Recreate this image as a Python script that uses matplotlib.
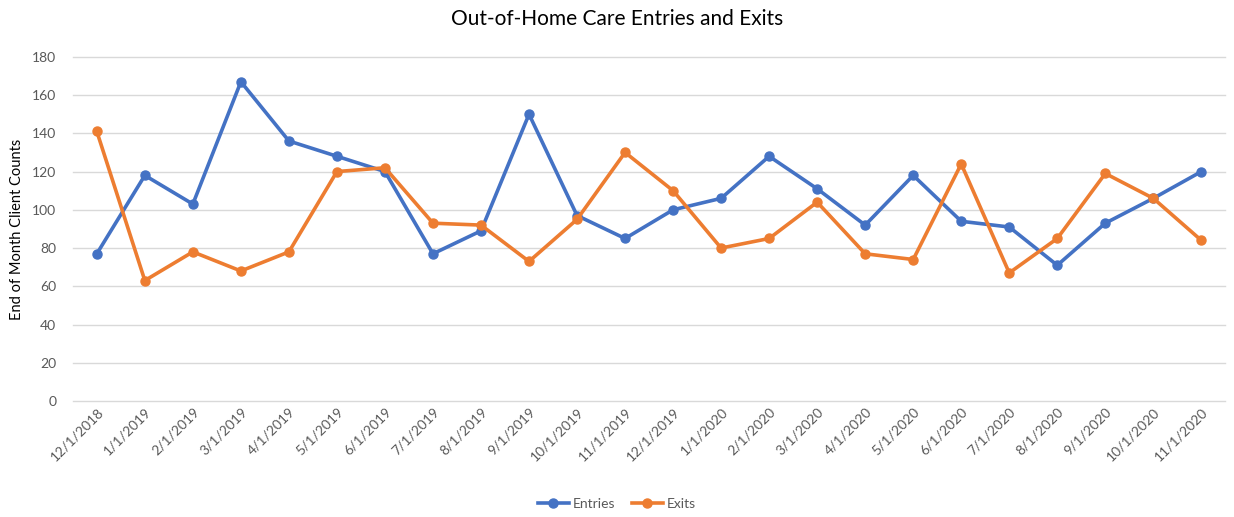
import matplotlib.pyplot as plt

months = ['12/1/2018', '1/1/2019', '2/1/2019', '3/1/2019', '4/1/2019', '5/1/2019',
          '6/1/2019', '7/1/2019', '8/1/2019', '9/1/2019', '10/1/2019', '11/1/2019',
          '12/1/2019', '1/1/2020', '2/1/2020', '3/1/2020', '4/1/2020', '5/1/2020',
          '6/1/2020', '7/1/2020', '8/1/2020', '9/1/2020', '10/1/2020', '11/1/2020']
entries = [77, 118, 103, 167, 136, 128, 120, 77, 89, 150, 97, 85,
           100, 106, 128, 111, 92, 118, 94, 91, 71, 93, 106, 120]
exits = [141, 63, 78, 68, 78, 120, 122, 93, 92, 73, 95, 130,
         110, 80, 85, 104, 77, 74, 124, 67, 85, 119, 106, 84]

plt.rcParams['font.family'] = ['Lato', 'DejaVu Sans']


def do_plot():
    fig = plt.figure(figsize=(12.34, 5.17), dpi=100)
    ax = fig.add_axes([0.059, 0.2244, 0.934, 0.6656])
    x = list(range(len(months)))
    ax.plot(x, entries, '-o', color='#4472C4', lw=2.6, markersize=6.5, label='Entries')
    ax.plot(x, exits, '-o', color='#ED7D31', lw=2.6, markersize=6.5, label='Exits')

    ax.set_xlim(-0.5, len(months) - 0.5)
    ax.set_ylim(0, 180)
    ax.set_yticks(range(0, 181, 20))
    ax.yaxis.grid(True, color='#D9D9D9', lw=1)
    for gl in ax.get_ygridlines():
        gl.set_clip_on(False)
    ax.set_axisbelow(True)
    for s in ax.spines.values():
        s.set_visible(False)
    ax.tick_params(length=0, colors='#595959', labelsize=10)
    ax.tick_params(axis='y', pad=12)
    ax.set_xticks(x)
    ax.set_xticklabels(months, rotation=45, ha='right', rotation_mode='anchor')
    ax.set_ylabel('End of Month Client Counts', fontsize=10.5, color='#000000', labelpad=6)
    fig.text(0.5, 0.963, 'Out-of-Home Care Entries and Exits', ha='center', va='center',
             fontsize=15, color='#000000')
    fig.legend(loc='center', bbox_to_anchor=(0.5, 0.025), ncol=2, frameon=False,
               fontsize=10, labelcolor='#595959', handlelength=2.2, columnspacing=1.2,
               handletextpad=0.3)
    fig.savefig('out.png', dpi=100)


if __name__ == '__main__':
    do_plot()
